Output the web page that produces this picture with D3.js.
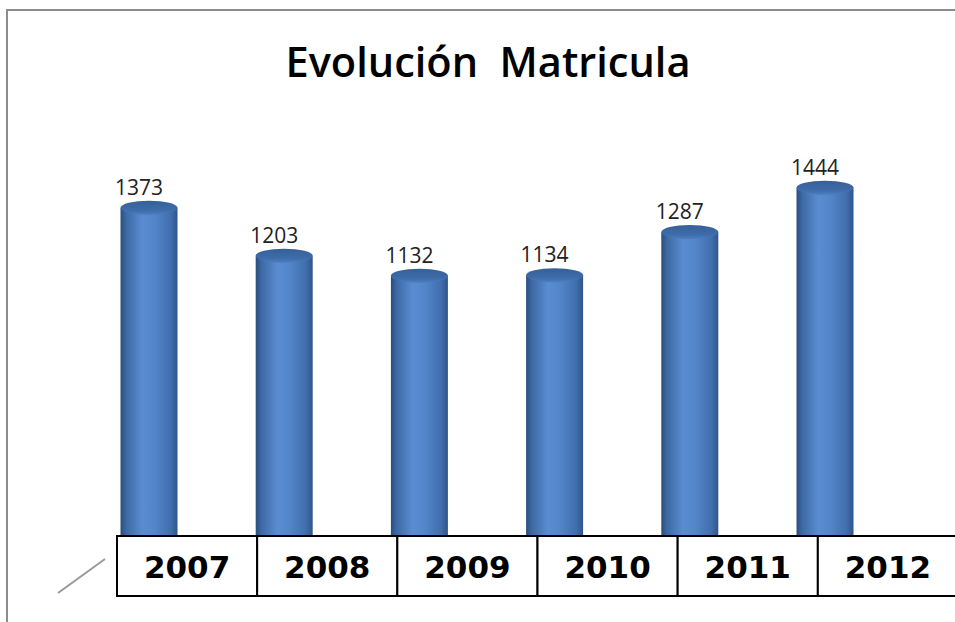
<!DOCTYPE html>
<meta charset="utf-8">
<script src="https://cdn.jsdelivr.net/npm/d3@7/dist/d3.min.js"></script>
<style>
  body { margin: 0; background: #fff; }
</style>
<div id="my_dataviz"></div>

<script>
// data
var years = ["2007", "2008", "2009", "2010", "2011", "2012"];
var matricula = [1373, 1203, 1132, 1134, 1287, 1444];
var titleText = "Evolución  Matricula";

var width = 955, height = 622;

var svg = d3.select("#my_dataviz")
  .append("svg")
    .attr("width", width)
    .attr("height", height);

var defs = svg.append("defs");

// side of the cylinder
var side = defs.append("linearGradient")
    .attr("id", "side")
    .attr("x1", "0%").attr("x2", "100%")
    .attr("y1", "0%").attr("y2", "0%");
side.append("stop").attr("offset", "0%").attr("stop-color", "#2a4d7d");
side.append("stop").attr("offset", "10%").attr("stop-color", "#3d69a4");
side.append("stop").attr("offset", "38%").attr("stop-color", "#5a8cd1");
side.append("stop").attr("offset", "60%").attr("stop-color", "#5285c9");
side.append("stop").attr("offset", "88%").attr("stop-color", "#416ead");
side.append("stop").attr("offset", "100%").attr("stop-color", "#2f5588");

// top cap
var cap = defs.append("linearGradient")
    .attr("id", "cap")
    .attr("x1", "0%").attr("x2", "0%")
    .attr("y1", "0%").attr("y2", "100%");
cap.append("stop").attr("offset", "0%").attr("stop-color", "#355f98");
cap.append("stop").attr("offset", "70%").attr("stop-color", "#3f6dab");
cap.append("stop").attr("offset", "100%").attr("stop-color", "#4c7ec2");

// frame (only top and left edges show)
svg.append("line")
  .attr("x1", 6).attr("x2", width)
  .attr("y1", 10).attr("y2", 10)
  .attr("stroke", "#8c8c8c").attr("stroke-width", 2);
svg.append("line")
  .attr("x1", 7).attr("x2", 7)
  .attr("y1", 10).attr("y2", height)
  .attr("stroke", "#8c8c8c").attr("stroke-width", 2);

// title (keep the double space)
svg.append("text")
  .attr("x", 488)
  .attr("y", 77)
  .attr("text-anchor", "middle")
  .attr("textLength", 405)
  .attr("lengthAdjust", "spacingAndGlyphs")
  .style("white-space", "pre")
  .style("font-family", "'Open Sans', sans-serif")
  .style("font-weight", 600)
  .style("font-size", "41px")
  .style("fill", "#000")
  .text(titleText);

// scales
var x = d3.scalePoint()
  .domain(years)
  .range([149, 825]);

var y = d3.scaleLinear()
  .domain([0, 1500])
  .range([595, 172]);

var barW = 57, ry = 7;
var data = years.map(function(d, i) { return { year: d, value: matricula[i] }; });

var bars = svg.append("g").selectAll("g")
  .data(data)
  .enter().append("g");

bars.append("rect")
  .attr("x", function(d) { return x(d.year) - barW / 2; })
  .attr("y", function(d) { return y(d.value); })
  .attr("width", barW)
  .attr("height", function(d) { return y(0) - y(d.value); })
  .attr("fill", "url(#side)");

bars.append("ellipse")
  .attr("cx", function(d) { return x(d.year); })
  .attr("cy", function(d) { return y(d.value); })
  .attr("rx", barW / 2)
  .attr("ry", ry)
  .attr("fill", "url(#cap)");

bars.append("text")
  .attr("x", function(d) { return x(d.year) - 10; })
  .attr("y", function(d) { return y(d.value) - ry - 6; })
  .attr("text-anchor", "middle")
  .style("font-family", "'Open Sans', sans-serif")
  .style("font-size", "21px")
  .style("fill", "#222")
  .text(function(d) { return d.value; });

// category boxes along the bottom
var xb = d3.scaleBand()
  .domain(years)
  .range([117, 958])
  .padding(0);

var boxes = svg.append("g").selectAll("g")
  .data(years)
  .enter().append("g");

boxes.append("rect")
  .attr("x", function(d) { return xb(d); })
  .attr("y", 536)
  .attr("width", xb.bandwidth())
  .attr("height", 60)
  .attr("fill", "#fff")
  .attr("stroke", "#000")
  .attr("stroke-width", 2);

boxes.append("text")
  .attr("x", function(d) { return xb(d) + xb.bandwidth() / 2; })
  .attr("y", 578)
  .attr("text-anchor", "middle")
  .style("font-family", "'DejaVu Sans', sans-serif")
  .style("font-weight", "bold")
  .style("font-size", "31px")
  .style("fill", "#000")
  .text(function(d) { return d; });

// small slanted tick left of the boxes
svg.append("line")
  .attr("x1", 58).attr("y1", 593)
  .attr("x2", 105).attr("y2", 559)
  .attr("stroke", "#9a9a9a")
  .attr("stroke-width", 2);
</script>
